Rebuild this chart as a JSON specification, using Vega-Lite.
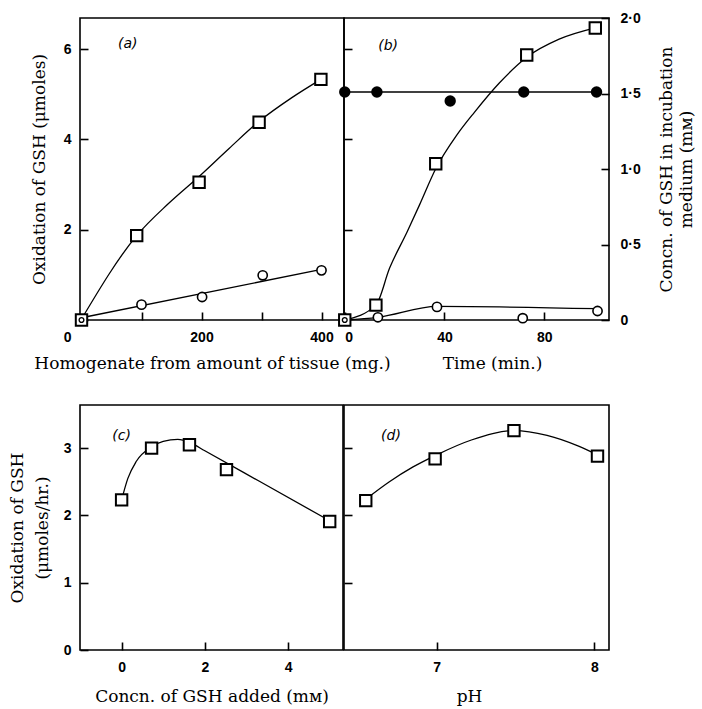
{
  "$schema": "https://vega.github.io/schema/vega-lite/v6.json",
  "background": "white",
  "padding": {"left": 7, "top": 10, "right": 5, "bottom": 2},
  "bounds": "flush",
  "columns": 2,
  "spacing": {"row": 85, "column": 0},
  "config": {
    "view": {"stroke": "black", "strokeWidth": 1.6},
    "axis": {
      "domain": false, "grid": false, "tickSize": -8, "tickColor": "black", "tickWidth": 1.6,
      "labelFont": "Liberation Sans", "labelFontSize": 14, "labelFontWeight": "bold", "labelColor": "black",
      "labelPadding": 17,
      "titleFont": "DejaVu Serif", "titleFontSize": 17, "titleFontWeight": "normal", "titleColor": "black"
    },
    "axisBottom": {"labelPadding": 18},
    "axisRight": {"labelPadding": 19},
    "text": {"font": "DejaVu Sans", "fontSize": 14, "fontStyle": "italic", "color": "black"}
  },
  "concat": [
    {
      "width": 264, "height": 302,
      "encoding": {
        "x": {"field": "x", "type": "quantitative", "scale": {"domain": [-2.5, 437.5], "nice": false, "zero": false},
          "axis": {"values": [100, 200, 300, 400], "labelExpr": "datum.value == 200 || datum.value == 400 ? datum.label : ''", "title": "Homogenate from amount of tissue (mg.)", "titlePadding": 11}},
        "y": {"field": "y", "type": "quantitative", "scale": {"domain": [0, 6.69], "nice": false},
          "axis": {"values": [0, 2, 4, 6], "title": "Oxidation of GSH (μmoles)", "labelOffset": {"condition": {"test": "datum.value == 0", "value": 17}, "value": 0}, "titlePadding": 15}}
      },
      "layer": [
        {
          "data": {"values": [{"label": "(a)", "x": 77, "y": 6.12}]},
          "mark": {"type": "text"},
          "encoding": {"text": {"field": "label"}}
        },
        {
          "data": {"values": [
            {"series": "square", "x": 0, "y": 0.02}, {"series": "square", "x": 92, "y": 1.87}, {"series": "square", "x": 145, "y": 2.58},
            {"series": "square", "x": 196, "y": 3.18}, {"series": "square", "x": 246, "y": 3.8}, {"series": "square", "x": 296, "y": 4.4},
            {"series": "square", "x": 350, "y": 4.92}, {"series": "square", "x": 399, "y": 5.33},
            {"series": "circle", "x": 0, "y": 0.05}, {"series": "circle", "x": 400, "y": 1.12}
          ]},
          "mark": {"type": "line", "interpolate": "monotone", "color": "black", "strokeWidth": 1.3},
          "encoding": {"detail": {"field": "series"}}
        },
        {
          "data": {"values": [
            {"x": 0, "y": 0}, {"x": 92, "y": 1.87}, {"x": 196, "y": 3.05}, {"x": 296, "y": 4.38}, {"x": 399, "y": 5.33}
          ]},
          "mark": {"type": "point", "shape": "square", "fill": "white", "stroke": "black", "strokeWidth": 2, "size": 130, "opacity": 1}
        },
        {
          "data": {"values": [
            {"x": 0, "y": 0}, {"x": 100, "y": 0.34}, {"x": 201, "y": 0.51}, {"x": 302, "y": 0.99}, {"x": 400, "y": 1.1}
          ]},
          "transform": [{"filter": "datum.x > 0"}],
          "mark": {"type": "point", "shape": "circle", "fill": "white", "stroke": "black", "strokeWidth": 1.6, "size": 85, "opacity": 1}
        },
        {
          "data": {"values": [{"x": 0, "y": 0}]},
          "mark": {"type": "point", "shape": "circle", "fill": "white", "stroke": "black", "strokeWidth": 1.4, "size": 22, "opacity": 1}
        }
      ]
    },
    {
      "width": 265, "height": 302,
      "resolve": {"scale": {"y": "independent"}},
      "encoding": {
        "x": {"field": "x", "type": "quantitative", "scale": {"domain": [-0.3, 106], "nice": false, "zero": false},
          "axis": {"values": [0, 40, 80], "title": "Time (min.)", "titlePadding": 11, "titleX": 148}}
      },
      "layer": [
        {
          "encoding": {
            "y": {"field": "y", "type": "quantitative", "scale": {"domain": [0, 6.69], "nice": false},
              "axis": {"orient": "left", "values": [2, 4, 6], "labels": false, "title": null}}
          },
          "layer": [
            {
              "data": {"values": [{"label": "(b)", "x": 17.4, "y": 6.08}]},
              "mark": {"type": "text"},
              "encoding": {"text": {"field": "label"}}
            },
            {
              "data": {"values": [
                {"series": "square", "x": 0, "y": 0}, {"series": "square", "x": 12.5, "y": 0.33}, {"series": "square", "x": 18, "y": 1.15},
                {"series": "square", "x": 25, "y": 1.95}, {"series": "square", "x": 30, "y": 2.55}, {"series": "square", "x": 36.5, "y": 3.35},
                {"series": "square", "x": 45, "y": 4.1}, {"series": "square", "x": 52, "y": 4.6}, {"series": "square", "x": 62, "y": 5.25},
                {"series": "square", "x": 73, "y": 5.82}, {"series": "square", "x": 86, "y": 6.22}, {"series": "square", "x": 100.5, "y": 6.47},
                {"series": "circle", "x": 0, "y": 0}, {"series": "circle", "x": 13.3, "y": 0.06}, {"series": "circle", "x": 37, "y": 0.3},
                {"series": "circle", "x": 101.4, "y": 0.25}
              ]},
              "mark": {"type": "line", "interpolate": "monotone", "color": "black", "strokeWidth": 1.3},
              "encoding": {"detail": {"field": "series"}}
            },
            {
              "data": {"values": [
                {"x": 0, "y": 0}, {"x": 12.5, "y": 0.33}, {"x": 36.5, "y": 3.46}, {"x": 73, "y": 5.87}, {"x": 100.5, "y": 6.47}
              ]},
              "mark": {"type": "point", "shape": "square", "fill": "white", "stroke": "black", "strokeWidth": 2, "size": 130, "opacity": 1}
            },
            {
              "data": {"values": [
                {"x": 0, "y": 0}, {"x": 13.3, "y": 0.06}, {"x": 37, "y": 0.29}, {"x": 71.4, "y": 0.04}, {"x": 101.4, "y": 0.2}
              ]},
              "transform": [{"filter": "datum.x > 0"}],
              "mark": {"type": "point", "shape": "circle", "fill": "white", "stroke": "black", "strokeWidth": 1.6, "size": 85, "opacity": 1}
            },
            {
              "data": {"values": [{"x": 0, "y": 0}]},
              "mark": {"type": "point", "shape": "circle", "fill": "white", "stroke": "black", "strokeWidth": 1.4, "size": 22, "opacity": 1}
            }
          ]
        },
        {
          "data": {"values": [
            {"x": 0, "y": 1.51}, {"x": 12.9, "y": 1.51}, {"x": 42.3, "y": 1.45}, {"x": 71.8, "y": 1.51}, {"x": 101, "y": 1.51}
          ]},
          "encoding": {
            "y": {"field": "y", "type": "quantitative", "scale": {"domain": [0, 2], "nice": false},
              "axis": {"orient": "right", "values": [0, 0.5, 1, 1.5, 2],
                "labelExpr": "datum.value == 0 ? '0' : replace(format(datum.value, '.1f'), '.', '·')",
                "title": ["Concn. of GSH in incubation", "medium (mᴍ)"], "titleAngle": 270, "titlePadding": 15, "titleLineHeight": 20}}
          },
          "layer": [
            {
              "transform": [{"filter": "datum.x != 42.3"}],
              "mark": {"type": "line", "color": "black", "strokeWidth": 1.3}
            },
            {
              "mark": {"type": "point", "shape": "circle", "filled": true, "color": "black", "size": 130, "opacity": 1}
            }
          ]
        }
      ]
    },
    {
      "width": 263, "height": 245,
      "encoding": {
        "x": {"field": "x", "type": "quantitative", "scale": {"domain": [-1, 5.32], "nice": false, "zero": false},
          "axis": {"values": [0, 2, 4], "title": "Concn. of GSH added (mᴍ)", "titlePadding": 14}},
        "y": {"field": "y", "type": "quantitative", "scale": {"domain": [0, 3.64], "nice": false},
          "axis": {"values": [0, 1, 2, 3], "title": ["Oxidation of GSH", "(μmoles/hr.)"], "titlePadding": 12, "titleLineHeight": 25}}
      },
      "layer": [
        {
          "data": {"values": [{"label": "(c)", "x": 0, "y": 3.18}]},
          "mark": {"type": "text"},
          "encoding": {"text": {"field": "label"}}
        },
        {
          "data": {"values": [
            {"x": 0, "y": 2.23}, {"x": 0.15, "y": 2.55}, {"x": 0.35, "y": 2.8}, {"x": 0.72, "y": 3.02}, {"x": 1.0, "y": 3.1},
            {"x": 1.35, "y": 3.13}, {"x": 1.65, "y": 3.08}, {"x": 2.0, "y": 2.96}, {"x": 3.3, "y": 2.51}, {"x": 5.0, "y": 1.92}
          ]},
          "mark": {"type": "line", "interpolate": "monotone", "color": "black", "strokeWidth": 1.3}
        },
        {
          "data": {"values": [
            {"x": 0, "y": 2.23}, {"x": 0.72, "y": 3.0}, {"x": 1.63, "y": 3.05}, {"x": 2.52, "y": 2.68}, {"x": 5.0, "y": 1.91}
          ]},
          "mark": {"type": "point", "shape": "square", "fill": "white", "stroke": "black", "strokeWidth": 2, "size": 130, "opacity": 1}
        }
      ]
    },
    {
      "width": 265, "height": 245,
      "encoding": {
        "x": {"field": "x", "type": "quantitative", "scale": {"domain": [6.412, 8.093], "nice": false, "zero": false},
          "axis": {"values": [7, 8], "title": "pH", "titlePadding": 14, "titleX": 125}},
        "y": {"field": "y", "type": "quantitative", "scale": {"domain": [0, 3.64], "nice": false},
          "axis": {"values": [1, 2, 3], "labels": false, "title": null}}
      },
      "layer": [
        {
          "data": {"values": [{"label": "(d)", "x": 6.71, "y": 3.18}]},
          "mark": {"type": "text"},
          "encoding": {"text": {"field": "label"}}
        },
        {
          "data": {"values": [
            {"x": 6.55, "y": 2.24}, {"x": 6.7, "y": 2.5}, {"x": 6.85, "y": 2.72}, {"x": 7.0, "y": 2.9}, {"x": 7.22, "y": 3.12},
            {"x": 7.49, "y": 3.26}, {"x": 7.7, "y": 3.19}, {"x": 7.9, "y": 3.03}, {"x": 8.02, "y": 2.9}
          ]},
          "mark": {"type": "line", "interpolate": "monotone", "color": "black", "strokeWidth": 1.3}
        },
        {
          "data": {"values": [
            {"x": 6.55, "y": 2.22}, {"x": 6.99, "y": 2.84}, {"x": 7.49, "y": 3.26}, {"x": 8.02, "y": 2.88}
          ]},
          "mark": {"type": "point", "shape": "square", "fill": "white", "stroke": "black", "strokeWidth": 2, "size": 130, "opacity": 1}
        }
      ]
    }
  ]
}
